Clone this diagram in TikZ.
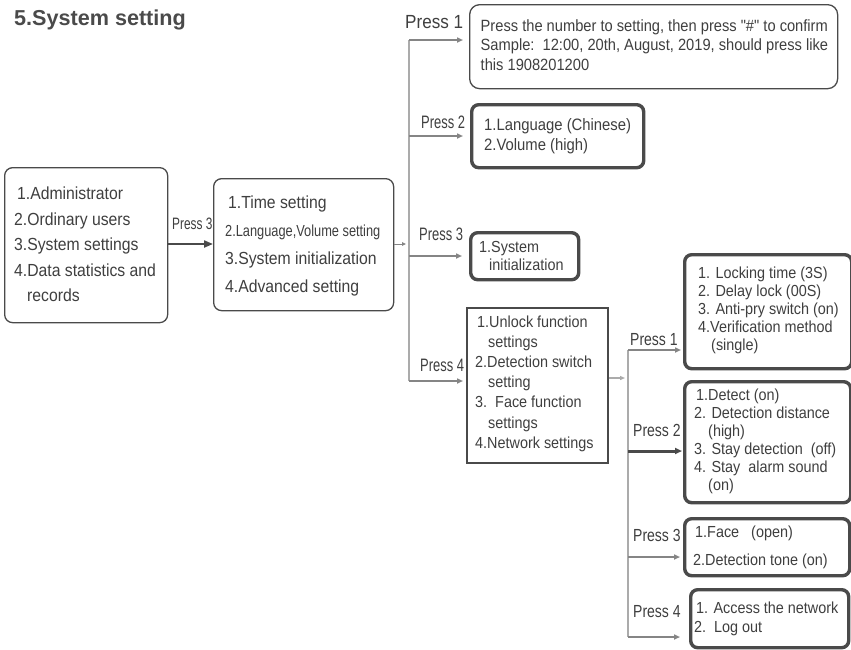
\documentclass[tikz,border=0pt]{standalone}
\usepackage{fontspec}
\newfontfamily\normf{Liberation Sans}
\newfontfamily\bodyf{Liberation Sans}[FakeStretch=0.9]
\newfontfamily\narrowf{Liberation Sans}[FakeStretch=0.8]
\newfontfamily\pressf{Liberation Sans}[FakeStretch=0.72]
\usetikzlibrary{arrows.meta}
\definecolor{txtgray}{HTML}{3F3F3F}
\definecolor{titlegray}{HTML}{4A4A4A}
\definecolor{boxgray}{HTML}{4A4A4A}
\definecolor{linegray}{HTML}{858585}
\definecolor{trunkgray}{HTML}{ABABAB}
\tikzset{
  thinbox/.style={draw=boxgray, line width=1.3pt, rounded corners=8pt, inner sep=0pt, anchor=north west},
  thickbox/.style={draw=boxgray, line width=3.4pt, rounded corners=7pt, inner sep=0pt, anchor=north west},
  sqbox/.style={draw=boxgray, line width=2.2pt, inner sep=0pt, anchor=north west},
  txt/.style={inner sep=0pt, anchor=north west, align=left, text=txtgray},
  lbl/.style={inner sep=0pt, anchor=west, text=txtgray},
  branch/.style={draw=linegray, line width=2pt, -{Triangle[length=6pt,width=5pt]}},
  trunk/.style={draw=trunkgray, line width=2.8pt},
}
\begin{document}
\begin{tikzpicture}[x=1pt,y=-1pt]
\useasboundingbox[fill=white] (0,0) rectangle (851,649);

% title
\node[inner sep=0pt, anchor=base west, text=titlegray, font={\normf\bfseries\fontsize{21.6pt}{26pt}\selectfont}] (title) at (14,25) {5.System setting};

% boxes
\node[thinbox, minimum width=163pt, minimum height=155pt] (A) at (4,167) {};
\node[thinbox, minimum width=180pt, minimum height=132pt] (B) at (213,178) {};
\node[thinbox, rounded corners=10pt, minimum width=368pt, minimum height=84pt] (P1) at (469,4) {};
\node[thickbox, minimum width=172pt, minimum height=63pt] (P2) at (470,103) {};
\node[thickbox, minimum width=108pt, minimum height=47pt] (P3) at (469,231) {};
\node[sqbox, minimum width=141pt, minimum height=155pt] (C) at (466,307) {};
\node[thickbox, minimum width=167pt, minimum height=114pt] (D1) at (683,253) {};
\node[thickbox, minimum width=166pt, minimum height=121pt] (D2) at (683,380) {};
\node[thickbox, minimum width=165pt, minimum height=57pt] (D3) at (683,517) {};
\node[thickbox, minimum width=158pt, minimum height=58pt] (D4) at (689,588) {};

% texts
\node[txt, font={\bodyf\fontsize{17.5pt}{25.5pt}\selectfont}] (tA) at (14,186.7)
  {\hspace*{3pt}1.Administrator\\2.Ordinary users\\3.System settings\\4.Data statistics and\\\hspace*{13pt}records};
\node[txt, font={\bodyf\fontsize{17.5pt}{28pt}\selectfont}] (tB) at (225,195.7)
  {\hspace*{3pt}1.Time setting\\{\narrowf\fontsize{16pt}{28pt}\selectfont 2.Language,Volume setting}\\3.System initialization\\4.Advanced setting};
\node[txt, font={\bodyf\fontsize{16.3pt}{19.5pt}\selectfont}] (tP1) at (480.5,19.1)
  {Press the number to setting, then press "\#" to confirm\\Sample:\ \ 12:00, 20th, August, 2019, should press like\\this 1908201200};
\node[txt, font={\bodyf\fontsize{16.5pt}{20pt}\selectfont}] (tP2) at (484,118)
  {1.Language (Chinese)\\2.Volume (high)};
\node[txt, font={\bodyf\fontsize{16pt}{18pt}\selectfont}] (tP3) at (479,241.2)
  {1.System\\\hspace*{10pt}initialization};
\node[txt, font={\bodyf\fontsize{16pt}{20.2pt}\selectfont}] (tC) at (475,315.2)
  {\hspace*{2pt}1.Unlock function\\\hspace*{13pt}settings\\2.Detection switch\\\hspace*{13pt}setting\\3.\ \ Face function\\\hspace*{13pt}settings\\4.Network settings};
\node[txt, font={\bodyf\fontsize{16pt}{18pt}\selectfont}] (tD1) at (698,266.2)
  {1. Locking time (3S)\\2. Delay lock (00S)\\3. Anti-pry switch (on)\\4.Verification method\\\hspace*{13pt}(single)};
\node[txt, font={\bodyf\fontsize{16pt}{18pt}\selectfont}] (tD2) at (694,388.2)
  {\hspace*{2pt}1.Detect (on)\\2. Detection distance\\\hspace*{14pt}(high)\\3. Stay detection\ \ (off)\\4. Stay\ \ alarm sound\\\hspace*{14pt}(on)};
\node[txt, font={\bodyf\fontsize{16pt}{28pt}\selectfont}] (tD3) at (693,525.2)
  {\hspace*{2pt}1.Face\ \ \ (open)\\2.Detection tone (on)};
\node[txt, font={\bodyf\fontsize{16pt}{19pt}\selectfont}] (tD4) at (694,601.2)
  {\hspace*{2pt}1. Access the network\\2.\ \ Log out};

% labels
\node[lbl, font={\pressf\fontsize{16.5pt}{18pt}\selectfont}] (l0) at (172,224) {Press 3};
\node[lbl, font={\bodyf\fontsize{19pt}{20pt}\selectfont}] (l11) at (405,22) {Press 1};
\node[lbl, font={\pressf\fontsize{18pt}{20pt}\selectfont}] (l12) at (421,122) {Press 2};
\node[lbl, font={\pressf\fontsize{18pt}{20pt}\selectfont}] (l13) at (419,234) {Press 3};
\node[lbl, font={\pressf\fontsize{18pt}{20pt}\selectfont}] (l14) at (420,365) {Press 4};
\node[lbl, font={\narrowf\fontsize{17.5pt}{20pt}\selectfont}] (l21) at (630,340) {Press 1};
\node[lbl, font={\narrowf\fontsize{17.5pt}{20pt}\selectfont}] (l22) at (633,430) {Press 2};
\node[lbl, font={\narrowf\fontsize{17.5pt}{20pt}\selectfont}] (l23) at (633,535) {Press 3};
\node[lbl, font={\narrowf\fontsize{17.5pt}{20pt}\selectfont}] (l24) at (633,612) {Press 4};

% junction coordinates
\coordinate (j1) at (409,244);
\coordinate (b1) at (409,40);
\coordinate (b2) at (409,136);
\coordinate (b3) at (409,256);
\coordinate (b4) at (409,381);
\coordinate (j2) at (628,378);
\coordinate (c1) at (628,350);
\coordinate (c2) at (628,451);
\coordinate (c3) at (628,557);
\coordinate (c4) at (628,637);

% connectors
\draw[draw=boxgray, line width=2pt, -{Triangle[length=9pt,width=7pt]}] (A.east |- j1) -- (B.west |- j1);
\draw[draw=linegray, line width=1pt, -{Triangle[length=4pt,width=3.5pt]}, shorten >=3pt] (B.east |- j1) -- (j1);
\draw[trunk] (b1) -- (b4);
\draw[branch, shorten >=6pt] (b1) -- (b1 -| P1.west);
\draw[branch, shorten >=7pt] (b2) -- (b2 -| P2.west);
\draw[branch, shorten >=7pt] (b3) -- (b3 -| P3.west);
\draw[branch, shorten >=3pt] (b4) -- (b4 -| C.west);
\draw[draw=trunkgray, line width=2pt, -{Triangle[length=5pt,width=4pt]}, shorten >=3pt] (C.east |- j2) -- (j2);
\draw[trunk] (c1) -- (c4);
\draw[branch, shorten >=2pt] (c1) -- (c1 -| D1.west);
\draw[branch, draw=boxgray, line width=3pt, -{Triangle[length=7pt,width=6pt]}, shorten >=1pt] (c2) -- (c2 -| D2.west);
\draw[branch, line width=1.5pt, shorten >=3pt] (c3) -- (c3 -| D3.west);
\draw[branch, shorten >=9pt] (c4) -- (c4 -| D4.west);
\end{tikzpicture}
\end{document}
